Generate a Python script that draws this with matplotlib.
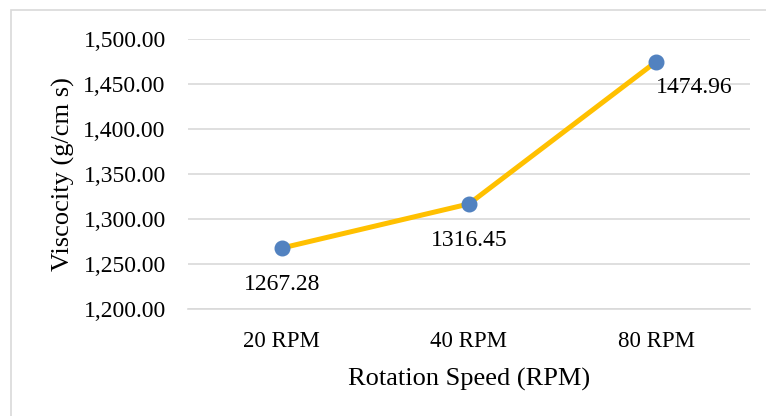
import matplotlib
matplotlib.use('Agg')
from matplotlib import pyplot as plt
from matplotlib.patches import Rectangle
import numpy as np

speeds = ['20 RPM', '40 RPM', '80 RPM']
viscosity = [1267.28, 1316.45, 1474.96]
y_ticks = [1200, 1250, 1300, 1350, 1400, 1450, 1500]

plt.rcParams['font.family'] = ['Liberation Serif', 'DejaVu Serif']

fig = plt.figure(figsize=(7.66, 4.16), dpi=100)
ax = fig.add_axes([0.2454, 0.2584, 0.7336, 0.6476])

x = np.arange(len(speeds))
ax.plot(x, viscosity, color='#FFC000', linewidth=3.6, zorder=3)
ax.plot(x, viscosity, 'o', color='#5282C0', markersize=10.5, zorder=4)

# data labels (below the points, last one nudged right like excel does)
offsets = [(0, -26), (0, -26), (27, -19)]
for xi, v, off in zip(x, viscosity, offsets):
    ax.annotate('%.2f' % v, (xi, v), xytext=off, textcoords='offset points',
                ha='center', va='center', fontsize=17)

ax.set_xlim(-0.5, 2.5)
ax.set_ylim(1200, 1500)
ax.set_xticks(x)
ax.set_xticklabels(speeds, fontsize=16.5)
ax.set_yticks(y_ticks)
ax.set_yticklabels(['{:,.2f}'.format(t) for t in y_ticks], fontsize=17)
ax.tick_params(length=0, pad=16)
ax.tick_params(axis='x', pad=16)
ax.grid(axis='y', color='#D9D9D9', linewidth=1.2)
ax.set_axisbelow(True)
for s in ['top', 'right', 'left']:
    ax.spines[s].set_visible(False)
ax.spines['bottom'].set_color('#D9D9D9')
ax.spines['bottom'].set_linewidth(1.2)

ax.set_xlabel('Rotation Speed (RPM)', fontsize=19, labelpad=12)
ax.set_ylabel('Viscocity (g/cm s)', fontsize=19, labelpad=6)

# light frame around the chart area
fig.patches.append(Rectangle((11 / 766, -0.05), 1.0, 1 - 10 / 416 + 0.05,
                             transform=fig.transFigure, fill=False,
                             edgecolor='#D9D9D9', linewidth=1.2))

fig.savefig('out.png', dpi=100)
